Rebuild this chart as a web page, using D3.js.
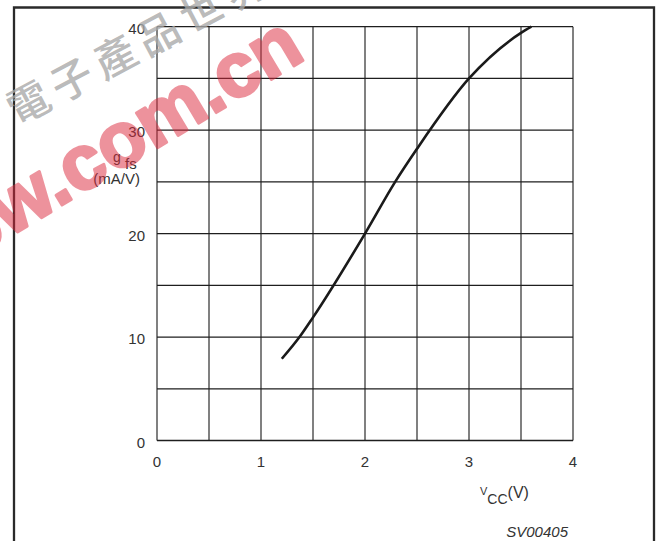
<!DOCTYPE html>
<html>
<head>
<meta charset="utf-8">
<script src="https://cdn.jsdelivr.net/npm/d3@7"></script>
<style>
  body { margin: 0; background: #fff; }
  text { font-family: "Liberation Sans", Arial, sans-serif; }
</style>
</head>
<body>
<div id="chart"></div>
<script>

// curve
var vcc = [1.2, 1.37, 1.5, 2.0, 2.29, 2.5, 3.0, 3.5, 3.6];
var gfs = [7.9, 10, 11.9, 20, 25, 28.2, 35, 39.4, 40];

var xTicks = [0, 1, 2, 3, 4];
var yTicks = [0, 10, 20, 30, 40];
var xGrid = [0, 0.5, 1, 1.5, 2, 2.5, 3, 3.5, 4];
var yGrid = [0, 5, 10, 15, 20, 25, 30, 35, 40];

var watermarkChars = ['電', '子', '產', '品', '世', '界'];
var watermarkText = 'www.eepw.com.cn';

var svgWidth = 660;
var svgHeight = 541;

var plot = { left: 157, right: 573, top: 26.7, bottom: 440.5 };

var svg = d3.select('#chart')
  .append('svg')
  .attr('width', svgWidth)
  .attr('height', svgHeight);

var xScale = d3.scaleLinear().domain([0, 4]).range([plot.left, plot.right]);
var yScale = d3.scaleLinear().domain([0, 40]).range([plot.bottom, plot.top]);

// outer frame (bottom runs off the picture)
svg.append('path')
  .attr('d', 'M14,' + (svgHeight + 5) + 'V7.5H654V' + (svgHeight + 5))
  .attr('fill', 'none')
  .attr('stroke', '#2a2a2a')
  .attr('stroke-width', 2.3);

// grid
svg.append('g')
  .selectAll('line')
  .data(xGrid)
  .enter()
  .append('line')
  .attr('x1', d => xScale(d))
  .attr('x2', d => xScale(d))
  .attr('y1', yScale(0))
  .attr('y2', yScale(40))
  .attr('stroke', '#4a4a4a')
  .attr('stroke-width', 1.4);

svg.append('g')
  .selectAll('line')
  .data(yGrid)
  .enter()
  .append('line')
  .attr('x1', xScale(0))
  .attr('x2', xScale(4))
  .attr('y1', d => yScale(d))
  .attr('y2', d => yScale(d))
  .attr('stroke', '#1e1e1e')
  .attr('stroke-width', 1.3);

// tick labels
svg.append('g')
  .selectAll('text')
  .data(xTicks)
  .enter()
  .append('text')
  .attr('x', d => xScale(d))
  .attr('y', 467)
  .attr('text-anchor', 'middle')
  .attr('font-size', '15px')
  .attr('fill', '#333')
  .text(d => d);

svg.append('g')
  .selectAll('text')
  .data(yTicks)
  .enter()
  .append('text')
  .attr('x', 145)
  .attr('y', d => yScale(d) + 7)
  .attr('text-anchor', 'end')
  .attr('font-size', '15px')
  .attr('fill', '#333')
  .text(d => d);

// y axis title
svg.append('text')
  .attr('x', 113)
  .attr('y', 162)
  .attr('font-size', '14px')
  .attr('fill', '#333')
  .text('g');
svg.append('text')
  .attr('x', 125)
  .attr('y', 169)
  .attr('font-size', '15px')
  .attr('fill', '#333')
  .text('fs');
svg.append('text')
  .attr('x', 140)
  .attr('y', 184)
  .attr('text-anchor', 'end')
  .attr('font-size', '15px')
  .attr('fill', '#333')
  .text('(mA/V)');

// x axis title
var xTitle = svg.append('text')
  .attr('x', 480)
  .attr('y', 495)
  .attr('fill', '#333');
xTitle.append('tspan').attr('font-size', '11px').text('V');
xTitle.append('tspan').attr('font-size', '14px').attr('dy', 9).text('CC');
xTitle.append('tspan').attr('font-size', '16px').attr('dy', -6).text('(V)');

svg.append('text')
  .attr('x', 568)
  .attr('y', 537)
  .attr('text-anchor', 'end')
  .attr('font-size', '15px')
  .attr('font-style', 'italic')
  .attr('fill', '#333')
  .text('SV00405');

// gfs curve
var line = d3.line()
  .x(d => xScale(d[0]))
  .y(d => yScale(d[1]))
  .curve(d3.curveMonotoneX);

svg.append('path')
  .datum(vcc.map((v, i) => [v, gfs[i]]))
  .attr('d', line)
  .attr('fill', 'none')
  .attr('stroke', '#1a1a1a')
  .attr('stroke-width', 2.6);

// watermark on top
var wm = svg.append('g').attr('pointer-events', 'none');

wm.append('g')
  .attr('transform', 'translate(27,100) rotate(-28)')
  .selectAll('text')
  .data(watermarkChars)
  .enter()
  .append('text')
  .attr('x', (d, i) => i * 49)
  .attr('y', 0)
  .attr('text-anchor', 'middle')
  .attr('dominant-baseline', 'central')
  .style('font-family', '"Noto Sans CJK TC", sans-serif')
  .attr('font-weight', 500)
  .attr('font-size', '42px')
  .attr('fill', '#a8a8a8')
  .attr('fill-opacity', 0.8)
  .text(d => d);

wm.append('g')
  .attr('opacity', 0.5)
  .append('text')
  .attr('transform', 'translate(307,58) rotate(-31)')
  .attr('text-anchor', 'end')
  .attr('font-size', '77px')
  .attr('font-weight', 'bold')
  .attr('fill', 'rgb(220,40,60)')
  .attr('stroke', 'rgb(220,40,60)')
  .attr('stroke-width', 3)
  .attr('stroke-linejoin', 'round')
  .text(watermarkText);

</script>
</body>
</html>
